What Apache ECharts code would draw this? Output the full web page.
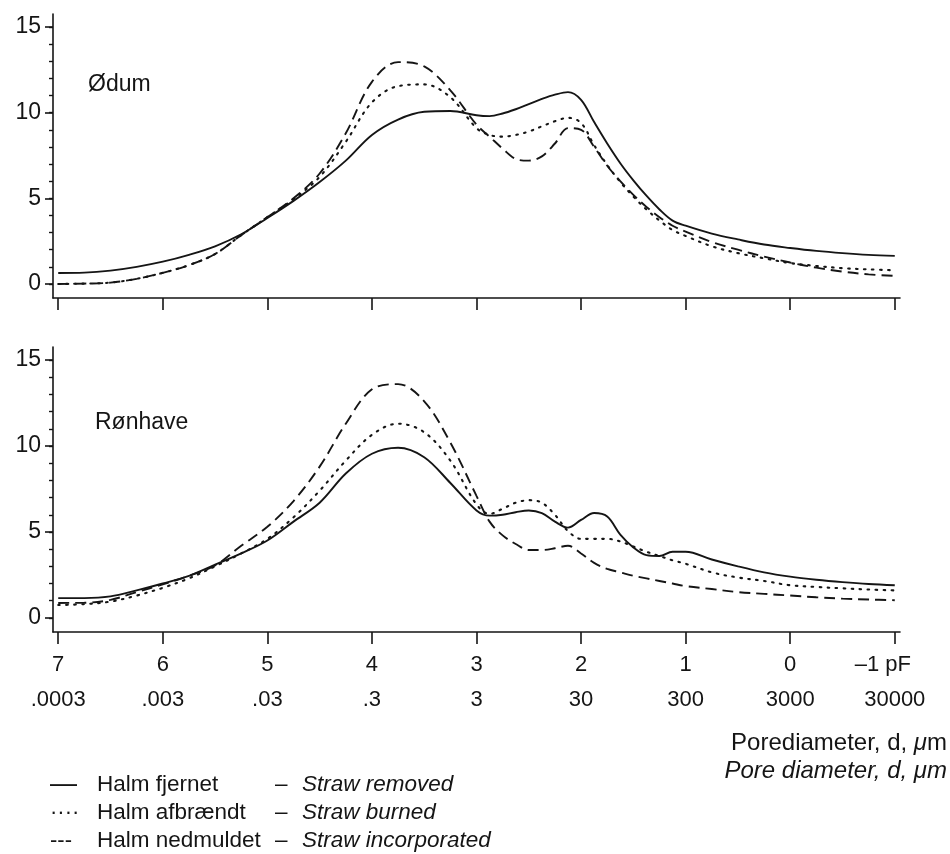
<!DOCTYPE html>
<html>
<head>
<meta charset="utf-8">
<script src="https://cdn.jsdelivr.net/npm/echarts@6/dist/echarts.min.js"></script>
<style>
html,body{margin:0;padding:0;background:#fff}
#chart{width:950px;height:854px}
</style>
</head>
<body>
<div id="chart"></div>
<script>
var FONT = '"Liberation Sans", Arial, sans-serif'
var INK = '#151515'

// pF grid, shared by every curve
var pF = [7, 6.75, 6.5, 6.25, 6, 5.75, 5.5, 5.25, 5, 4.75, 4.5, 4.25, 4, 3.75, 3.5, 3.25,
  3, 2.875, 2.75, 2.625, 2.5, 2.375, 2.25, 2.125, 2, 1.875, 1.75, 1.625, 1.5, 1.375, 1.25, 1.125, 1,
  0.75, 0.5, 0.25, 0, -0.25, -0.5, -0.75, -1]

// Ødum
var odumFjernet = [0.64, 0.66, 0.78, 1.0, 1.3, 1.7, 2.2, 2.9, 3.85, 4.85, 5.95, 7.2, 8.7, 9.6, 10.05, 10.1,
  9.85, 9.8, 9.95, 10.2, 10.5, 10.8, 11.05, 11.2, 10.75, 9.45, 8.2, 7.05, 6.05, 5.15, 4.35, 3.7, 3.4,
  2.94, 2.6, 2.3, 2.1, 1.93, 1.8, 1.7, 1.64]
var odumAfbraendt = [0.0, 0.02, 0.08, 0.3, 0.65, 1.1, 1.75, 2.85, 3.9, 4.95, 6.25, 8.3, 10.6, 11.55, 11.65, 10.9,
  9.1, 8.7, 8.6, 8.7, 8.9, 9.2, 9.5, 9.7, 9.4, 8.1, 6.95, 5.95, 5.1, 4.35, 3.7, 3.15, 2.8,
  2.2, 1.8, 1.5, 1.22, 1.05, 0.92, 0.85, 0.8]
var odumNedmuldet = [0.0, 0.02, 0.08, 0.3, 0.65, 1.1, 1.75, 2.85, 3.9, 5.0, 6.45, 8.8, 11.8, 12.95, 12.7, 11.3,
  9.3, 8.6, 7.9, 7.3, 7.2, 7.45, 8.2, 9.1, 9.0, 8.0, 6.9, 6.0, 5.2, 4.5, 3.9, 3.4, 3.05,
  2.45, 2.0, 1.6, 1.25, 0.95, 0.72, 0.56, 0.47]

// Rønhave
var ronFjernet = [1.15, 1.15, 1.25, 1.6, 2.0, 2.45, 3.1, 3.75, 4.5, 5.6, 6.7, 8.4, 9.55, 9.9, 9.35, 7.85,
  6.25, 5.95, 6.0, 6.15, 6.25, 6.1, 5.6, 5.25, 5.7, 6.1, 5.9, 4.85, 4.1, 3.65, 3.6, 3.85, 3.85,
  3.4, 3.0, 2.65, 2.4, 2.22, 2.08, 1.97, 1.9]
var ronAfbraendt = [0.75, 0.8, 0.95, 1.3, 1.75, 2.3, 3.0, 3.75, 4.6, 5.85, 7.4, 9.15, 10.65, 11.3, 10.8, 9.15,
  6.6, 6.05, 6.35, 6.7, 6.85, 6.7, 6.0, 5.05, 4.6, 4.6, 4.6, 4.45, 4.15, 3.85, 3.6, 3.35, 3.15,
  2.65, 2.35, 2.15, 1.9, 1.8, 1.72, 1.65, 1.6]
var ronNedmuldet = [0.87, 0.88, 1.05, 1.5, 1.95, 2.45, 3.05, 4.2, 5.3, 6.8, 8.8, 11.3, 13.3, 13.6, 12.6, 10.2,
  7.1, 5.6, 4.8, 4.3, 3.95, 3.95, 4.05, 4.2, 3.75, 3.2, 2.85, 2.65, 2.45, 2.3, 2.15, 2.0, 1.85,
  1.68, 1.5, 1.4, 1.3, 1.2, 1.12, 1.07, 1.03]

// axes
var pfTicks = [7, 6, 5, 4, 3, 2, 1, 0, -1]
var pfLabels = ['7', '6', '5', '4', '3', '2', '1', '0', '\u20131 pF']
var diamLabels = ['.0003', '.003', '.03', '.3', '3', '30', '300', '3000', '30000']
var yMajor = [0, 5, 10, 15]
var yMinor = [0, 1, 2, 3, 4, 5, 6, 7, 8, 9, 10, 11, 12, 13, 14, 15]

var seriesNames = ['Halm fjernet', 'Halm afbrændt', 'Halm nedmuldet']
var seriesEnglish = ['Straw removed', 'Straw burned', 'Straw incorporated']
var legendMarks = ['\u2014', '\u00b7\u00b7\u00b7\u00b7', '---']

var lineStyles = [
  { color: INK, width: 1.9, type: 'solid' },
  { color: INK, width: 2.1, type: [1.6, 6.4], cap: 'round' },
  { color: INK, width: 1.9, type: [11, 6] }
]

function pairs(arr) {
  return pF.map(function (p, i) { return [p, arr[i]] })
}

function tickLabel(v) {
  for (var i = 0; i < pfTicks.length; i++) {
    if (Math.abs(pfTicks[i] - v) < 1e-6) {
      var top = i === pfTicks.length - 1 ? '{c|' + pfLabels[i] + '}' : '{a|' + pfLabels[i] + '}'
      return top + '\n{b|' + diamLabels[i] + '}'
    }
  }
  return ''
}

var axisLineStyle = { color: INK, width: 1.6 }

function makeX(gi, withLabels) {
  return {
    gridIndex: gi, type: 'value', min: -1.05, max: 7.05, inverse: true,
    axisLine: { onZero: false, lineStyle: axisLineStyle },
    axisTick: { show: true, length: 12, customValues: pfTicks, lineStyle: axisLineStyle },
    axisLabel: {
      show: withLabels, customValues: pfTicks, margin: 15, formatter: tickLabel,
      rich: {
        a: { fontFamily: FONT, fontSize: 22, color: INK, lineHeight: 35 },
        b: { fontFamily: FONT, fontSize: 22, color: INK, lineHeight: 35 },
        c: { fontFamily: FONT, fontSize: 22, color: INK, lineHeight: 35, padding: [0, 24, 0, 0] }
      }
    },
    splitLine: { show: false }
  }
}

function makeYMajor(gi) {
  return {
    gridIndex: gi, type: 'value', min: -0.82, max: 15.76, position: 'left',
    axisLine: { show: true, onZero: false, lineStyle: axisLineStyle },
    axisTick: { show: true, length: 8, customValues: yMajor, lineStyle: axisLineStyle },
    axisLabel: { customValues: yMajor, margin: 12, fontFamily: FONT, fontSize: 23, color: INK },
    splitLine: { show: false }
  }
}

function makeYMinor(gi) {
  return {
    gridIndex: gi, type: 'value', min: -0.82, max: 15.76, position: 'left', offset: 0,
    axisLine: { show: false, onZero: false },
    axisTick: { show: true, length: 4, customValues: yMinor, lineStyle: { color: INK, width: 1.4 } },
    axisLabel: { show: false },
    splitLine: { show: false }
  }
}

var panels = [
  [odumFjernet, odumAfbraendt, odumNedmuldet],
  [ronFjernet, ronAfbraendt, ronNedmuldet]
]

var series = []
panels.forEach(function (set, gi) {
  set.forEach(function (arr, k) {
    series.push({
      name: seriesNames[k],
      type: 'line',
      xAxisIndex: gi,
      yAxisIndex: gi * 2,
      data: pairs(arr),
      smooth: 0.35,
      symbol: 'none',
      silent: true,
      lineStyle: lineStyles[k]
    })
  })
})

var graphic = [
  { type: 'text', x: 88, y: 85, style: { text: 'Ødum', font: '23px ' + FONT, fill: INK, verticalAlign: 'middle' } },
  { type: 'text', x: 95, y: 423, style: { text: 'Rønhave', font: '23px ' + FONT, fill: INK, verticalAlign: 'middle' } },
  {
    type: 'text', x: 947, y: 743,
    style: {
      text: '{n|Porediameter, d, }{i|\u03bc}{n|m}', align: 'right', verticalAlign: 'middle',
      rich: {
        n: { fontFamily: FONT, fontSize: 24, fill: INK },
        i: { fontFamily: FONT, fontSize: 24, fontStyle: 'italic', fill: INK }
      }
    }
  },
  {
    type: 'text', x: 947, y: 771,
    style: { text: 'Pore diameter, d, \u03bcm', align: 'right', verticalAlign: 'middle', font: 'italic 24px ' + FONT, fill: INK }
  }
]

var legendRows = [785, 813, 841]
for (var k = 0; k < 3; k++) {
  var yy = legendRows[k]
  graphic.push({ type: 'text', x: 50, y: yy, style: { text: legendMarks[k], font: (k === 0 ? '27px ' : '22px ') + FONT, fill: INK, verticalAlign: 'middle' } })
  graphic.push({ type: 'text', x: 97, y: yy, style: { text: seriesNames[k], font: '22.5px ' + FONT, fill: INK, verticalAlign: 'middle' } })
  graphic.push({ type: 'text', x: 275, y: yy, style: { text: '\u2013', font: '22.5px ' + FONT, fill: INK, verticalAlign: 'middle' } })
  graphic.push({ type: 'text', x: 302, y: yy, style: { text: seriesEnglish[k], font: 'italic 22.5px ' + FONT, fill: INK, verticalAlign: 'middle' } })
}

var chart = echarts.init(document.getElementById('chart'), null, { renderer: 'canvas' })
chart.setOption({
  animation: false,
  backgroundColor: '#fff',
  grid: [
    { left: 53, top: 14, width: 847, height: 284 },
    { left: 53, top: 347, width: 847, height: 285 }
  ],
  xAxis: [makeX(0, false), makeX(1, true)],
  yAxis: [makeYMajor(0), makeYMinor(0), makeYMajor(1), makeYMinor(1)],
  series: series,
  graphic: graphic
})
</script>
</body>
</html>
